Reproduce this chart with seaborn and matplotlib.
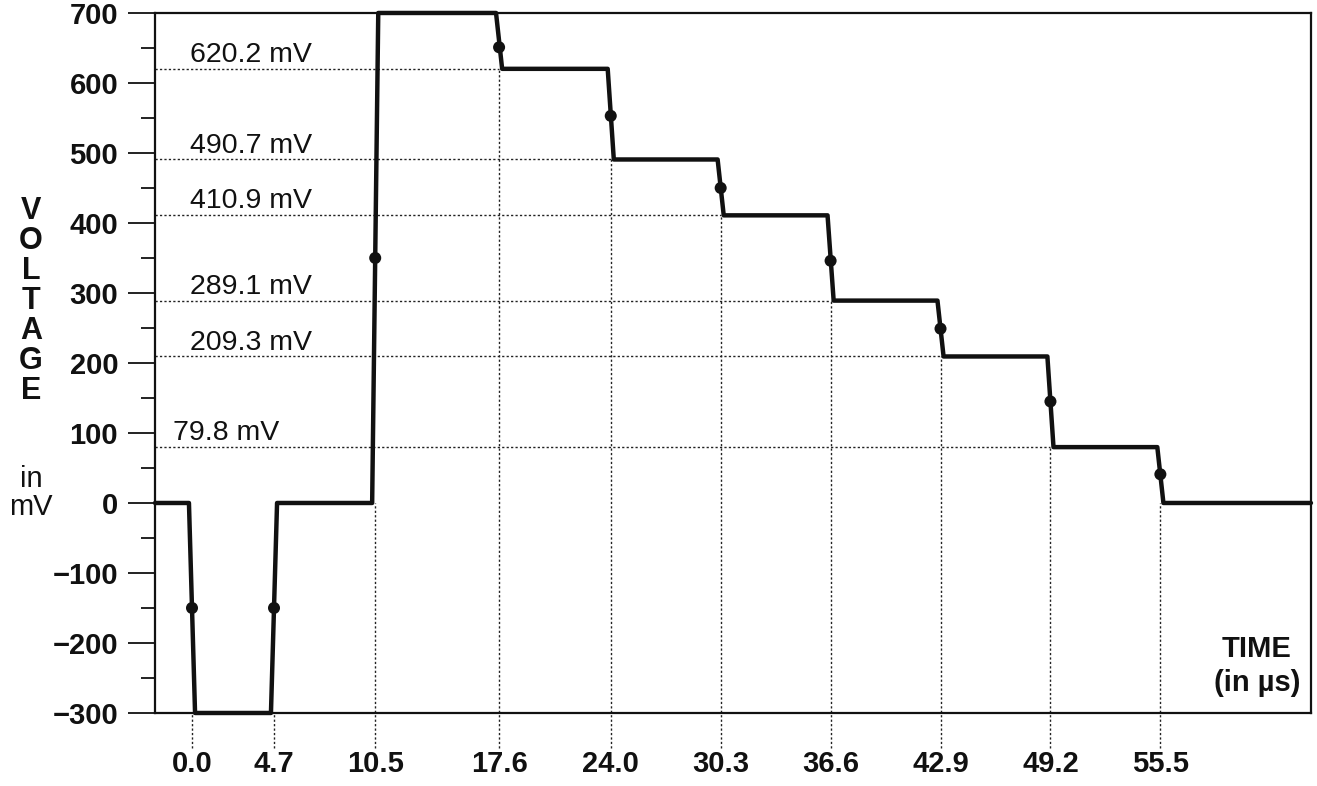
import numpy as np
import pandas as pd
import matplotlib
matplotlib.use("Agg")
import matplotlib.pyplot as plt
from matplotlib.ticker import MultipleLocator
import seaborn as sns

# edge instants (in µs) and the level (mV) the trace settles on after each edge
step_times = [0.0, 4.7, 10.5, 17.6, 24.0, 30.3, 36.6, 42.9, 49.2, 55.5]
step_levels = [-300, 0, 700, 620.2, 490.7, 410.9, 289.1, 209.3, 79.8, 0]
start_level = 0
# the sample dots sitting on each edge (mV)
dot_levels = [-150, -150, 350, 651, 553, 450, 346, 249, 145, 41]
# levels that get a dotted guide and a label
marked_levels = [620.2, 490.7, 410.9, 289.1, 209.3, 79.8]
y_ticks = [-300, -200, -100, 0, 100, 200, 300, 400, 500, 600, 700]

# layout
X_MIN, X_MAX = -2.12, 64.13
EDGE = 0.35          # drawn rise/fall time of an edge
LABEL_X = -0.1       # left edge of the level labels
DOT = (0, (1.6, 1.6))

sns.set_style("white")
plt.rcParams['font.family'] = ['Liberation Sans', 'DejaVu Sans']

fig = plt.figure(figsize=(13.17, 7.86), dpi=100)
ax = fig.add_axes([0.1177, 0.0929, 0.8777, 0.8906])

# trace = flat runs joined by short sloped edges
xs, ys = [X_MIN], [start_level]
prev = start_level
for t, lvl in zip(step_times, step_levels):
    xs += [t - EDGE / 2, t + EDGE / 2]
    ys += [prev, lvl]
    prev = lvl
xs.append(X_MAX)
ys.append(prev)
trace = pd.DataFrame({'time': xs, 'mv': ys})

# dotted drop lines from below the axis up to each edge
prev_levels = [start_level] + step_levels[:-1]
for t, a, b in zip(step_times, prev_levels, step_levels):
    ax.vlines(t, -350, min(a, b), colors='#222222', linestyles=DOT, lw=1.0,
              clip_on=False, zorder=1)

# dotted level lines from the left axis to the edge where the level starts
for lvl in marked_levels:
    t = step_times[step_levels.index(lvl)]
    ax.hlines(lvl, X_MIN, t, colors='#222222', linestyles=DOT, lw=1.0, zorder=1)
    lx = LABEL_X if lvl > 100 else -1.1
    ax.annotate(f"{lvl:.1f} mV", xy=(lx, lvl), xytext=(0, 5), textcoords='offset points',
                ha='left', va='baseline', fontsize=20.5, color='#111111')

sns.lineplot(data=trace, x='time', y='mv', sort=False, estimator=None,
             color='#111111', lw=3.2, ax=ax, zorder=3)
ax.lines[-1].set_clip_on(False)

sns.scatterplot(x=step_times, y=dot_levels, s=75, color='#111111',
                edgecolor='none', ax=ax, zorder=4, clip_on=False)

ax.set_xlim(X_MIN, X_MAX)
ax.set_ylim(-300, 700)
ax.set_xticks(step_times)
ax.set_xticklabels([f"{t:.1f}" for t in step_times])
ax.set_yticks(y_ticks)
ax.yaxis.set_minor_locator(MultipleLocator(50))
ax.set_xlabel('')
ax.set_ylabel('')

ax.tick_params(axis='y', which='major', left=True, direction='out', length=19.5,
               width=1.3, pad=7, labelsize=21, colors='#111111')
ax.tick_params(axis='y', which='minor', left=True, direction='out', length=10,
               width=1.3, colors='#111111')
ax.tick_params(axis='x', bottom=True, length=0, pad=27, labelsize=21, colors='#111111')
for lbl in ax.get_xticklabels() + ax.get_yticklabels():
    lbl.set_fontweight('bold')

for sp in ax.spines.values():
    sp.set_color('#111111')
    sp.set_linewidth(1.6)

# stacked axis title on the left
for i, ch in enumerate("VOLTAGE"):
    fig.text(31 / 1317, 1 - (211 + i * 30) / 786, ch, ha='center', va='center',
             fontsize=22, fontweight='bold', color='#111111')
fig.text(31 / 1317, 1 - 479 / 786, "in", ha='center', va='center', fontsize=21, color='#111111')
fig.text(31 / 1317, 1 - 507 / 786, "mV", ha='center', va='center', fontsize=21, color='#111111')

fig.text(1257 / 1317, 1 - 649 / 786, "TIME", ha='center', va='center',
         fontsize=21, fontweight='bold', color='#111111')
fig.text(1257 / 1317, 1 - 683 / 786, "(in µs)", ha='center', va='center',
         fontsize=21, fontweight='bold', color='#111111')

fig.savefig('out.png', dpi=100)
